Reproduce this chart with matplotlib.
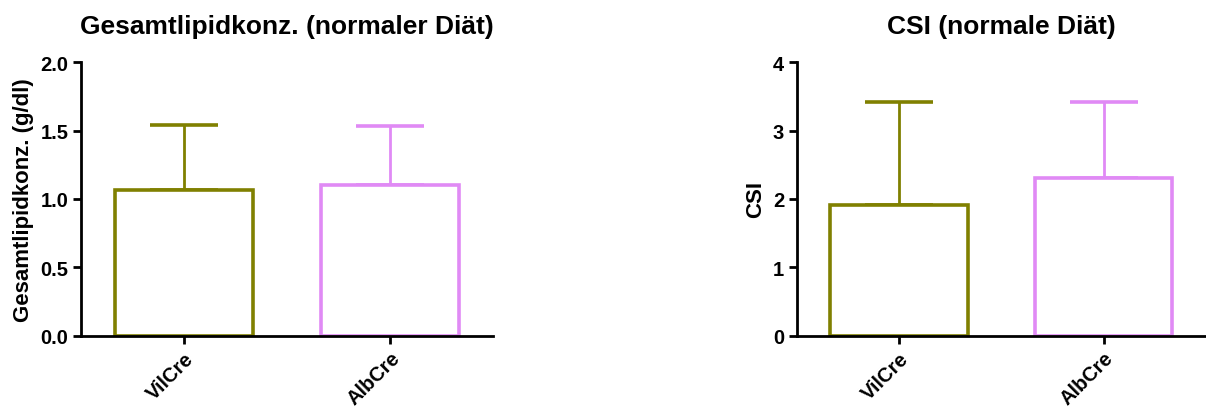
import matplotlib
matplotlib.use('Agg')
import matplotlib.pyplot as plt

plt.rcParams['font.family'] = ['Liberation Sans', 'DejaVu Sans']
plt.rcParams['font.weight'] = 'bold'

groups = ['VilCre', 'AlbCre']
colors = ['#808000', '#e08af5']

lipid_mean = [1.066, 1.105]
lipid_upper = [1.538, 1.536]
csi_mean = [1.905, 2.31]
csi_upper = [3.415, 3.415]


def draw_panel(ax, means, uppers, ymax, yticks, ylabel, title, fmt):
    x = list(range(len(groups)))
    for i in x:
        ax.bar(i, means[i], width=0.67, facecolor='white', edgecolor=colors[i],
               linewidth=2.6, zorder=2)
        ax.errorbar(i, means[i], yerr=[[0], [uppers[i] - means[i]]], fmt='none',
                    ecolor=colors[i], elinewidth=2.0, capsize=24.5, capthick=2.6,
                    zorder=1)
    ax.set_xlim(-0.5, 1.5)
    ax.set_ylim(0, ymax)
    ax.set_yticks(yticks)
    ax.set_yticklabels([fmt % v for v in yticks], fontsize=14.5, fontweight='bold')
    ax.set_xticks(x)
    ax.set_xticklabels(groups, rotation=45, ha='right', rotation_mode='anchor',
                       fontsize=14.5, fontweight='bold')
    ax.set_ylabel(ylabel, fontsize=16, fontweight='bold', labelpad=5)
    ax.set_title(title, fontsize=19, fontweight='bold', pad=21)
    for s in ['top', 'right']:
        ax.spines[s].set_visible(False)
    for s in ['left', 'bottom']:
        ax.spines[s].set_linewidth(2)
        ax.spines[s].set_zorder(3)
    ax.tick_params(axis='both', width=2, length=6, direction='out', pad=3)


fig = plt.figure(figsize=(12.06, 4.10), dpi=100)
ax1 = fig.add_axes([0.0672, 0.1788, 0.3416, 0.6668])
ax2 = fig.add_axes([0.6606, 0.1788, 0.3394, 0.6668])

draw_panel(ax1, lipid_mean, lipid_upper, 2.0, [0.0, 0.5, 1.0, 1.5, 2.0],
           'Gesamtlipidkonz. (g/dl)', 'Gesamtlipidkonz. (normaler Diät)', '%.1f')
draw_panel(ax2, csi_mean, csi_upper, 4, [0, 1, 2, 3, 4],
           'CSI', 'CSI (normale Diät)', '%d')

fig.savefig('out.png', dpi=100)
